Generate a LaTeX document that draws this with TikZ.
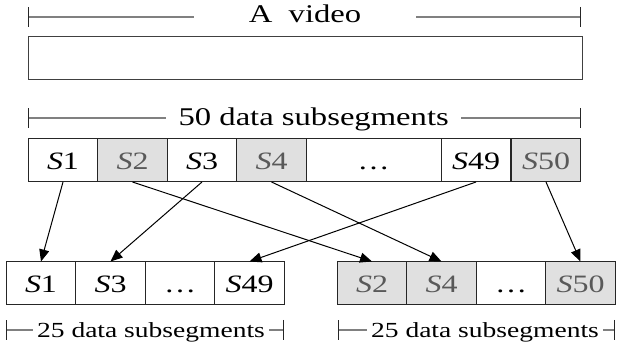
\documentclass[tikz,border=0pt]{standalone}
\usepackage{fontspec}
\setmainfont{Liberation Serif}[FakeStretch=1.28]
\usetikzlibrary{arrows.meta}

\newcommand\PMSeg[1]{\textit{S}#1}

\tikzset{
  seg/.style={draw=black!85, line width=1pt, minimum width=69.5pt,
    minimum height=43pt, inner sep=0pt, outer sep=0pt,
    text height=19pt, text depth=0pt,
    font=\fontsize{25}{30}\selectfont},
  segpair/.style={seg, fill=black!12, text=black!65},
  cote/.style={draw=black!50, line width=1.5pt},
  cotetexte/.style={inner ysep=0pt, anchor=base},
  PMTaquet/.tip={Bar[width=20pt, line width=1.2pt, color=black!85]},
}

\begin{document}
\begin{tikzpicture}[x=1pt, y=-1pt, >={Triangle[length=12pt, width=10pt]}]
  \useasboundingbox (0,0) rectangle (619,352);
  % la video entiere
  \coordinate (videoG) at (28,17);
  \coordinate (videoD) at (581,17);
  \node[cotetexte, inner xsep=55pt, font=\fontsize{25.5}{30}\selectfont]
    (video) at (305,22.7) {A~~video};
  \draw[cote, PMTaquet-] (videoG) -- (video.west |- videoG);
  \draw[cote, -PMTaquet] (video.east |- videoD) -- (videoD);
  \node[draw=black!75, line width=1pt, minimum width=554pt, minimum height=43pt,
    inner sep=0pt, anchor=north west] (film) at (28,36) {};
  % les 50 sous-segments
  \coordinate (toutG) at (28,118);
  \coordinate (toutD) at (581,118);
  \node[cotetexte, inner xsep=12.5pt, font=\fontsize{25.5}{30}\selectfont]
    (tout) at (313.7,126) {50 data subsegments};
  \draw[cote, PMTaquet-] (toutG) -- (tout.west |- toutG);
  \draw[cote, -PMTaquet] (tout.east |- toutD) -- (toutD);
  \node[seg] (h1) at (63,160.5) {\PMSeg1};
  \node[segpair] (h2) at (132.5,160.5) {\PMSeg2};
  \node[seg] (h3) at (202,160.5) {\PMSeg3};
  \node[segpair] (h4) at (271.5,160.5) {\PMSeg4};
  \node[seg, minimum width=135pt] (hdots) at (373.5,160.5) {…};
  \node[seg] (h49) at (476,160.5) {\PMSeg{49}};
  \node[segpair] (h50) at (546,160.5) {\PMSeg{50}};
  % impairs
  \node[seg] (i1) at (41,283) {\PMSeg1};
  \node[seg] (i3) at (110.5,283) {\PMSeg3};
  \node[seg] (idots) at (180,283) {…};
  \node[seg] (i49) at (249.5,283) {\PMSeg{49}};
  % pairs
  \node[segpair] (p2) at (372,283) {\PMSeg2};
  \node[segpair] (p4) at (441.5,283) {\PMSeg4};
  \node[seg] (pdots) at (511,283) {…};
  \node[segpair] (p50) at (580.5,283) {\PMSeg{50}};
  \draw[->, line width=1pt] (h1.south) -- (i1.north);
  \draw[->, line width=1pt] (h3.south) -- (i3.north);
  \draw[->, line width=1pt] (h49.south) -- (i49.north);
  \draw[->, line width=1pt] (h2.south) -- (p2.north);
  \draw[->, line width=1pt] (h4.south) -- (p4.north);
  \draw[->, line width=1pt] (h50.south) -- (p50.north);
  % les deux moities
  \coordinate (impG) at (6,330);
  \coordinate (impD) at (284,330);
  \node[cotetexte, inner xsep=4pt, font=\fontsize{21.5}{26}\selectfont]
    (imp) at (151,337.3) {25 data subsegments};
  \draw[cote, PMTaquet-] (impG) -- (imp.west |- impG);
  \draw[cote, -PMTaquet] (imp.east |- impD) -- (impD);
  \coordinate (pairG) at (338,330);
  \coordinate (pairD) at (615,330);
  \node[cotetexte, inner xsep=4pt, font=\fontsize{21.5}{26}\selectfont]
    (pair) at (485,337.3) {25 data subsegments};
  \draw[cote, PMTaquet-] (pairG) -- (pair.west |- pairG);
  \draw[cote, -PMTaquet] (pair.east |- pairD) -- (pairD);
\end{tikzpicture}
\end{document}
